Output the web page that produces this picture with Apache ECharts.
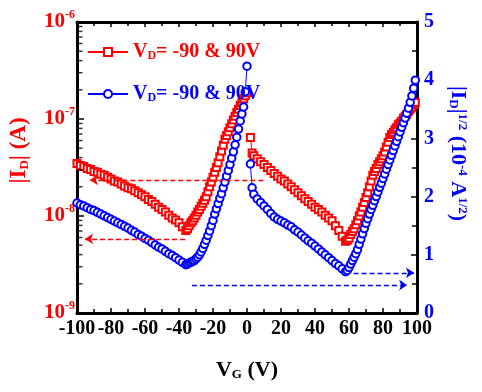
<!DOCTYPE html>
<html>
<head>
<meta charset="utf-8">
<script src="https://cdn.jsdelivr.net/npm/echarts@6/dist/echarts.min.js"></script>
<style>html,body{margin:0;background:#fff}#chart{width:482px;height:392px}</style>
</head>
<body>
<div id="chart"></div>
<script>
// VG sweep, negative side (VD = -90 V)
const vgNeg = [-100,-98,-96,-94,-92,-90,-88,-86,-84,-82,-80,-78,-76,-74,-72,-70,-68,-66,-64,-62,-60,-58,-56,-54,-52,-50,-48,-46,-44,-42,-40,-38,-36,
  -35,-34,-33,-32,-31,-30,-29,-28,-27,-26,-25,-24,-23,-22,-21,-20,-19,-18,-17,-16,-15,-14,-13,-12,-11,-10,-9,-8,-7,-6,-5,-4,-3,-2,-1,0];
// |ID| in A
const idNeg = [3.47e-8,3.31e-8,3.24e-8,3.09e-8,3.02e-8,2.88e-8,2.82e-8,2.69e-8,2.63e-8,2.51e-8,2.40e-8,2.29e-8,2.24e-8,2.14e-8,2.04e-8,1.95e-8,1.91e-8,1.82e-8,1.74e-8,1.66e-8,1.58e-8,1.48e-8,1.41e-8,1.32e-8,1.23e-8,1.17e-8,1.10e-8,1.02e-8,9.55e-9,9.12e-9,8.51e-9,7.76e-9,7.08e-9,
  7.41e-9,7.94e-9,8.51e-9,8.91e-9,9.55e-9,1.02e-8,1.10e-8,1.17e-8,1.26e-8,1.35e-8,1.45e-8,1.58e-8,1.78e-8,2.00e-8,2.24e-8,2.51e-8,2.82e-8,3.16e-8,3.55e-8,4.07e-8,4.68e-8,5.37e-8,6.17e-8,6.76e-8,
  7.41e-8,8.13e-8,8.91e-8,9.77e-8,1.07e-7,1.17e-7,1.26e-7,1.38e-7,1.48e-7,1.62e-7,1.74e-7,1.86e-7];
// |ID|^1/2 in 1e-4 A^1/2
const sqrtNeg = [1.89,1.86,1.84,1.81,1.78,1.76,1.73,1.70,1.67,1.64,1.61,1.58,1.55,1.52,1.49,1.46,1.42,1.39,1.35,1.32,1.28,1.25,1.21,1.17,1.13,1.10,1.06,1.02,0.99,0.95,0.91,0.87,0.83,
  0.84,0.86,0.87,0.89,0.90,0.93,0.96,1.00,1.05,1.11,1.18,1.25,1.33,1.41,1.50,1.59,1.70,1.79,1.88,1.97,2.05,2.15,2.25,2.35,
  2.45,2.55,2.66,2.77,2.89,3.02,3.16,3.30,3.42,3.54,3.80,4.24];

// VG sweep, positive side (VD = 90 V)
const vgPos = [2,3,4,6,8,10,12,14,16,18,20,22,24,26,28,30,32,34,36,38,40,42,44,46,48,50,52,54,56,58,
  59,60,61,62,63,64,65,66,67,68,69,70,71,72,73,74,75,76,77,78,79,80,81,82,83,84,85,86,87,88,89,90,91,92,93,94,95,96,97,98,99];
const idPos = [6.46e-8,4.47e-8,4.17e-8,3.89e-8,3.63e-8,3.39e-8,3.16e-8,2.95e-8,2.75e-8,2.57e-8,2.40e-8,2.29e-8,2.14e-8,2.00e-8,1.86e-8,1.74e-8,1.62e-8,1.51e-8,1.41e-8,1.32e-8,1.23e-8,1.17e-8,1.10e-8,1.02e-8,9.55e-9,8.91e-9,7.94e-9,7.08e-9,6.17e-9,5.50e-9,
  5.62e-9,5.89e-9,6.46e-9,6.92e-9,7.41e-9,8.13e-9,8.91e-9,1.00e-8,1.10e-8,1.23e-8,1.38e-8,1.55e-8,1.74e-8,2.00e-8,2.29e-8,2.63e-8,2.88e-8,3.09e-8,3.39e-8,3.63e-8,3.89e-8,4.17e-8,
  4.57e-8,5.13e-8,5.75e-8,6.46e-8,6.92e-8,7.24e-8,7.76e-8,8.13e-8,8.71e-8,9.12e-8,9.55e-8,1.02e-7,1.07e-7,1.12e-7,1.20e-7,1.26e-7,1.32e-7,1.41e-7,1.48e-7];
const sqrtPos = [2.56,2.15,2.04,1.96,1.90,1.84,1.78,1.71,1.65,1.61,1.58,1.55,1.51,1.48,1.43,1.39,1.34,1.29,1.24,1.20,1.15,1.10,1.05,1.00,0.95,0.90,0.85,0.81,0.76,0.71,
  0.73,0.78,0.84,0.90,0.96,1.02,1.09,1.18,1.27,1.36,1.45,1.54,1.62,1.70,1.78,1.85,1.93,2.00,2.08,2.16,2.23,2.31,
  2.39,2.47,2.55,2.63,2.71,2.79,2.87,2.95,3.03,3.11,3.19,3.27,3.35,3.43,3.52,3.62,3.73,3.86,4.00];

// dashed arrows (which curve belongs to which axis)
const redArrowY = [2.35e-8, 5.8e-9];
const redArrowFrom = [9.6, -36.4];
const redArrowTo = [-92.4, -95.3];
const blueArrowY = [0.69, 0.48];
const blueArrowFrom = [62.7, -32.4];
const blueArrowTo = [98.2, 94.2];

// minor ticks of the log axis
const logMinorTicks = [2e-9,3e-9,4e-9,5e-9,6e-9,7e-9,8e-9,9e-9,2e-8,3e-8,4e-8,5e-8,6e-8,7e-8,8e-8,9e-8,2e-7,3e-7,4e-7,5e-7,6e-7,7e-7,8e-7,9e-7];

const RED = '#ff0000', BLUE = '#0000ff';
const FONT = 'Liberation Serif';
const zip = (xs, ys) => xs.map((x, i) => [x, ys[i]]);
const txt = (color, size, extra) => Object.assign({ color: color, fontSize: size, fontWeight: 'bold', fontFamily: FONT }, extra || {});

const arrowLines = (ys, from, to) => ys.map((y, i) => [{ coord: [from[i], y] }, { coord: [to[i], y] }]);

const chart = echarts.init(document.getElementById('chart'));
chart.setOption({
  animation: false,
  textStyle: { fontFamily: FONT, fontWeight: 'bold' },
  grid: { left: 74, right: 65, top: 22, bottom: 79 },
  legend: {
    orient: 'vertical', left: 82, top: 37,
    itemWidth: 40, itemHeight: 10, itemGap: 22,
    data: ['Id', 'Isqrt'],
    formatter: n => n === 'Id' ? '{r|V}{rs|D}{r|= -90 & 90V}' : '{b|V}{bs|D}{b|= -90 & 90V}',
    textStyle: {
      rich: {
        r: txt(RED, 20), rs: txt(RED, 12, { verticalAlign: 'bottom' }),
        b: txt(BLUE, 20), bs: txt(BLUE, 12, { verticalAlign: 'bottom' })
      }
    }
  },
  xAxis: [{
    type: 'value', min: -100, max: 100, interval: 20,
    name: '{a|V}{s|G}{a| (V)}', nameLocation: 'middle', nameGap: 46,
    nameTextStyle: { rich: { a: txt('#000', 22), s: txt('#000', 13, { verticalAlign: 'bottom' }) } },
    axisLine: { onZero: false, lineStyle: { color: '#000', width: 3 } },
    axisTick: { inside: true, length: 5, lineStyle: { width: 1.5 } },
    minorTick: { show: true, splitNumber: 2, length: 4, lineStyle: { color: '#000', width: 1.5 } },
    axisLabel: txt('#000', 20, { margin: 6 }),
    splitLine: { show: false }
  }, {
    type: 'value', position: 'top', min: -100, max: 100, interval: 20,
    axisLine: { onZero: false, lineStyle: { color: '#000', width: 3 } },
    axisTick: { inside: true, length: 5, lineStyle: { width: 1.5 } },
    minorTick: { show: true, splitNumber: 2, length: 4, lineStyle: { color: '#000', width: 1.5 } },
    axisLabel: { show: false },
    splitLine: { show: false }
  }],
  yAxis: [{
    type: 'log', logBase: 10, min: 1e-9, max: 1e-6, position: 'left',
    name: '{a||I}{s|D}{a|| (A)}', nameLocation: 'middle', nameRotate: 90, nameGap: 46,
    nameTextStyle: { padding: [0, 0, 0, 34], rich: { a: txt(RED, 23), s: txt(RED, 13, { verticalAlign: 'bottom' }) } },
    axisLine: { show: true, onZero: false, lineStyle: { color: '#000', width: 3 } },
    axisTick: { inside: true, length: 7, lineStyle: { width: 1.5 } },
    axisLabel: {
      margin: 2,
      formatter: v => '{b|10}{s|' + Math.round(Math.log10(v)) + '}',
      rich: { b: txt(RED, 21, { lineHeight: 26 }), s: txt(RED, 12, { verticalAlign: 'top' }) }
    },
    splitLine: { show: false }
  }, {
    type: 'value', min: 0, max: 5, interval: 1, position: 'right',
    name: '{a||I}{s|D}{a||}{p|1/2}{a| (10}{p|-4}{a| A}{p|1/2}{a|)}',
    nameLocation: 'middle', nameRotate: -90, nameGap: 30,
    nameTextStyle: { padding: [0, 28, 0, 0], rich: { a: txt(BLUE, 22), s: txt(BLUE, 13, { verticalAlign: 'bottom' }), p: txt(BLUE, 13, { verticalAlign: 'top' }) } },
    axisLine: { show: true, onZero: false, lineStyle: { color: '#000', width: 3 } },
    axisTick: { inside: true, length: 6, lineStyle: { width: 1.5 } },
    minorTick: { show: true, splitNumber: 2, length: 5, lineStyle: { color: '#000', width: 1.5 } },
    axisLabel: txt(BLUE, 20, { margin: 7 }),
    splitLine: { show: false }
  }],
  series: [{
    name: 'Id', type: 'line', yAxisIndex: 0, data: zip(vgNeg, idNeg),
    symbol: 'emptyRect', symbolSize: 7, lineStyle: { color: RED, width: 1 },
    itemStyle: { color: RED, borderWidth: 1 },
    markLine: {
      silent: true, symbol: ['none', 'arrow'], symbolSize: 8,
      label: { show: false }, lineStyle: { color: RED, type: [5, 3], width: 1.3 },
      data: arrowLines(redArrowY, redArrowFrom, redArrowTo)
    }
  }, {
    name: 'Id', type: 'line', yAxisIndex: 0, data: zip(vgPos, idPos),
    symbol: 'emptyRect', symbolSize: 7, lineStyle: { color: RED, width: 1 },
    itemStyle: { color: RED, borderWidth: 1 }
  }, {
    name: 'Isqrt', type: 'line', yAxisIndex: 1, data: zip(vgNeg, sqrtNeg),
    symbol: 'emptyCircle', symbolSize: 7.5, lineStyle: { color: BLUE, width: 1 },
    itemStyle: { color: BLUE, borderWidth: 1 }
  }, {
    name: 'Isqrt', type: 'line', yAxisIndex: 1, data: zip(vgPos, sqrtPos),
    symbol: 'emptyCircle', symbolSize: 7.5, lineStyle: { color: BLUE, width: 1 },
    itemStyle: { color: BLUE, borderWidth: 1 },
    markLine: {
      silent: true, symbol: ['none', 'arrow'], symbolSize: 8,
      label: { show: false }, lineStyle: { color: BLUE, type: [5, 3], width: 1.3 },
      data: arrowLines(blueArrowY, blueArrowFrom, blueArrowTo)
    }
  }, {
    type: 'scatter', yAxisIndex: 0, silent: true, clip: false, z: 5,
    data: logMinorTicks.map(v => [-100, v]),
    symbol: 'rect', symbolSize: [4, 1.5], symbolOffset: [3.5, 0],
    itemStyle: { color: '#000' }
  }]
});
</script>
</body>
</html>
